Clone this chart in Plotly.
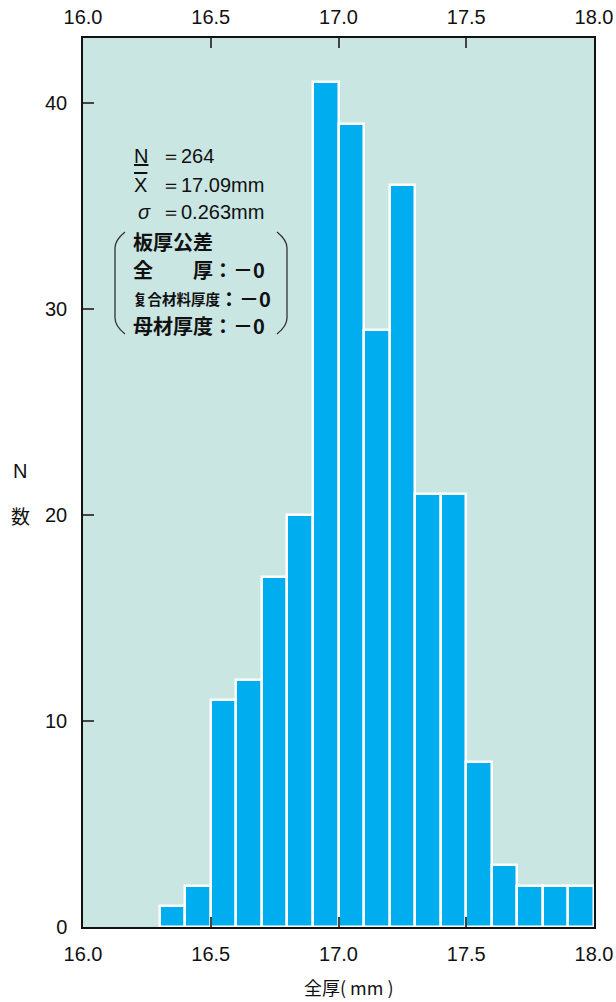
import plotly.graph_objects as go

# Histogram of total plate thickness (bin width 0.1 mm)
bin_left = [16.3, 16.4, 16.5, 16.6, 16.7, 16.8, 16.9, 17.0, 17.1, 17.2,
            17.3, 17.4, 17.5, 17.6, 17.7, 17.8, 17.9]
counts = [1, 2, 11, 12, 17, 20, 41, 39, 29, 36, 21, 21, 8, 3, 2, 2, 2]
bin_width = 0.1

x_ticks = [16.0, 16.5, 17.0, 17.5, 18.0]
x_ticktext = ["16.0", "16.5", "17.0", "17.5", "18.0"]
y_ticks = [0, 10, 20, 30, 40]

W, H = 616, 1002
L, R, T, B = 83, 22, 38, 75
PW, PH = W - L - R, H - T - B

LAT = "Liberation Sans, Arial, sans-serif"
CJK = "Noto Sans CJK JP, sans-serif"
INK = "#111111"


def px(x):
    return (x - L) / PW


def py(y):
    return (H - B - y) / PH


centers = [round(b + bin_width / 2, 3) for b in bin_left]

fig = go.Figure()
fig.add_trace(go.Bar(
    x=centers, y=counts, width=bin_width,
    marker=dict(color="#00AEEF", line=dict(color="white", width=2.5)),
    showlegend=False, hoverinfo="x+y",
))
# invisible trace to carry the top axis
fig.add_trace(go.Scatter(x=[16.0, 18.0], y=[0, 0], xaxis="x2", mode="markers",
                         marker=dict(opacity=0), showlegend=False, hoverinfo="skip"))

axis_common = dict(
    range=[16.0, 18.0], tickvals=x_ticks, ticktext=x_ticktext,
    ticks="inside", ticklen=10, tickwidth=1.5, tickcolor="#444444",
    showgrid=False, zeroline=False, automargin=False,
    showline=True, linecolor="#111111", linewidth=1.5,
    tickfont=dict(family=LAT, size=20, color=INK),
)

fig.update_layout(
    width=W, height=H,
    margin=dict(l=L, r=R, t=T, b=B, pad=0, autoexpand=False),
    paper_bgcolor="white",
    plot_bgcolor="#C9E6E3",
    bargap=0,
    xaxis=dict(**axis_common, mirror=True, ticklabelstandoff=8),
    xaxis2=dict(**axis_common, overlaying="x", side="top", anchor="y",
                ticklabelstandoff=4),
    yaxis=dict(
        range=[0, 43.15], tickvals=y_ticks,
        ticks="inside", ticklen=11, tickwidth=1.5, tickcolor="#444444",
        showgrid=False, zeroline=False, automargin=False,
        showline=True, linecolor="#111111", linewidth=1.5, mirror=True,
        tickfont=dict(family=LAT, size=20, color=INK),
        ticklabelstandoff=10,
    ),
)

ann = []


def text(x, y, s, font=LAT, size=19, anchor="left"):
    ann.append(dict(x=px(x), y=py(y), xref="paper", yref="paper", text=s,
                    showarrow=False, xanchor=anchor, yanchor="middle",
                    font=dict(family=font, size=size, color=INK)))


# statistics block
text(132, 156, "<span style='text-decoration:underline'>N</span>", size=20)
text(159, 156, "＝264", size=20)
text(132, 185, "<span style='text-decoration:overline'>X</span>", size=20)
text(159, 185, "＝17.09mm", size=20)
text(136, 212, "<i>σ</i>", size=20)
text(159, 212, "＝0.263mm", size=20)

# tolerance block
text(131, 241, "<b>板厚公差</b>", font=CJK, size=20)
text(131, 270, "<b>全　　厚：－0</b>", font=CJK, size=20)
text(131, 298, "<b>复合材料厚度</b>", font=CJK, size=14.5)
text(217, 298, "<b>：－0</b>", font=CJK, size=20)
text(131, 326, "<b>母材厚度：－0</b>", font=CJK, size=20)

# axis titles
text(349, 987, "全厚( mm )", font=CJK, size=18, anchor="center")
text(20, 471, "N", font=LAT, size=20, anchor="center")
text(20, 515, "数", font=CJK, size=19, anchor="center")

fig.update_layout(annotations=ann)


def bracket(x_out, x_in, y0, y1):
    return (f"M {px(x_out)},{py(y0)} Q {px(x_in)},{py(y0 + 8)} {px(x_in)},{py(y0 + 16)} "
            f"L {px(x_in)},{py(y1 - 16)} Q {px(x_in)},{py(y1 - 8)} {px(x_out)},{py(y1)}")


shapes = [
    dict(type="path", xref="paper", yref="paper", path=bracket(125, 115, 232, 334),
         line=dict(color="#333333", width=1.3)),
    dict(type="path", xref="paper", yref="paper", path=bracket(277, 287, 232, 334),
         line=dict(color="#333333", width=1.3)),
]
fig.update_layout(shapes=shapes)

fig.write_html("out.html")
